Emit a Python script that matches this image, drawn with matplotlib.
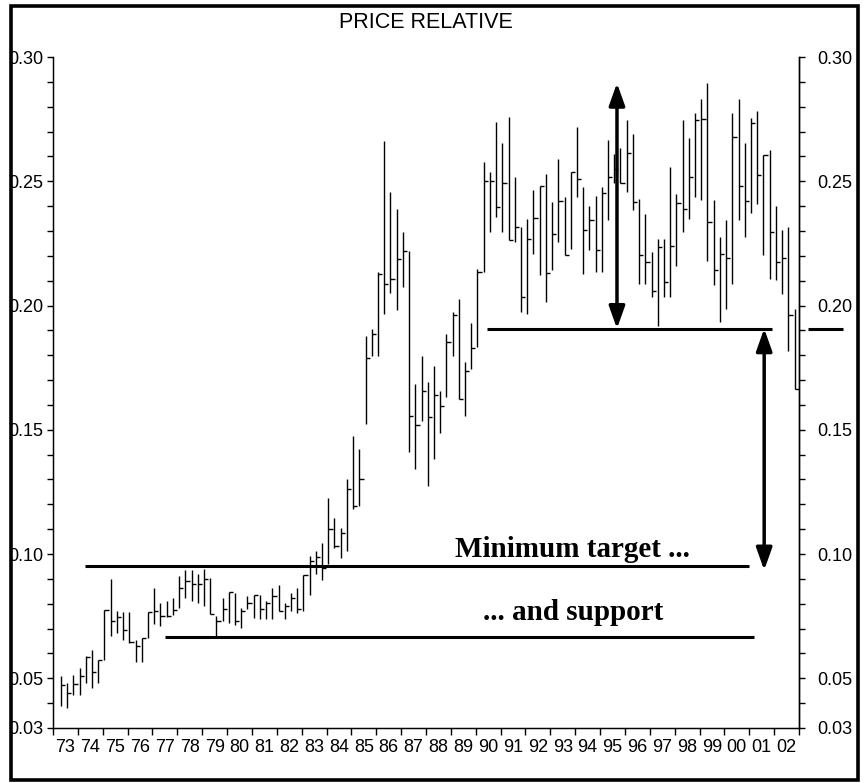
import matplotlib
matplotlib.use('Agg')
import matplotlib.pyplot as plt
import numpy as np
from matplotlib.patches import Rectangle, ArrowStyle
from matplotlib.ticker import FixedLocator, NullFormatter, FixedFormatter

# ---------------- data (quarterly high / low / close) ----------------
high = [0.0508, 0.0481, 0.0514, 0.0541, 0.0588, 0.0612, 0.0575, 0.0776, 0.0900, 0.0770,
        0.0766, 0.0766, 0.0656, 0.0662, 0.0766, 0.0864, 0.0803, 0.0810, 0.0824, 0.0911,
        0.0934, 0.0934, 0.0921, 0.0941, 0.0905, 0.0750, 0.0824, 0.0847, 0.0844, 0.0784,
        0.0831, 0.0837, 0.0837, 0.0810, 0.0864, 0.0875, 0.0804, 0.0844, 0.0864, 0.0915,
        0.0992, 0.1012, 0.1046, 0.1227, 0.1147, 0.1106, 0.1301, 0.1476, 0.1422, 0.1879,
        0.1906, 0.2134, 0.2663, 0.2457, 0.2390, 0.2296, 0.2218, 0.1684, 0.1798, 0.1691,
        0.1758, 0.1657, 0.1886, 0.1973, 0.2027, 0.1772, 0.1929, 0.2148, 0.2578, 0.2538,
        0.2739, 0.2652, 0.2760, 0.2518, 0.2316, 0.2350, 0.2466, 0.2480, 0.2531, 0.2417,
        0.2591, 0.2437, 0.2538, 0.2719, 0.2477, 0.2399, 0.2440, 0.2477, 0.2668, 0.2611,
        0.2632, 0.2746, 0.2692, 0.2430, 0.2370, 0.2215, 0.2269, 0.2269, 0.2558, 0.2450,
        0.2746, 0.2676, 0.2775, 0.2829, 0.2896, 0.2423, 0.2275, 0.2345, 0.2775, 0.2829,
        0.2652, 0.2753, 0.2784, 0.2605, 0.2625, 0.2399, 0.2305, 0.2316, 0.1987]
low = [0.0387, 0.0380, 0.0434, 0.0434, 0.0481, 0.0461, 0.0481, 0.0575, 0.0672, 0.0682,
       0.0653, 0.0642, 0.0564, 0.0564, 0.0662, 0.0719, 0.0709, 0.0746, 0.0756, 0.0783,
       0.0824, 0.0810, 0.0804, 0.0790, 0.0757, 0.0669, 0.0730, 0.0723, 0.0716, 0.0703,
       0.0777, 0.0743, 0.0737, 0.0737, 0.0737, 0.0770, 0.0737, 0.0770, 0.0763, 0.0770,
       0.0837, 0.0918, 0.0894, 0.0958, 0.1026, 0.0985, 0.1012, 0.1180, 0.1194, 0.1523,
       0.1798, 0.1798, 0.1964, 0.2050, 0.1983, 0.2074, 0.1409, 0.1341, 0.1536, 0.1274,
       0.1382, 0.1489, 0.1630, 0.1798, 0.1624, 0.1557, 0.1745, 0.1832, 0.2134, 0.2296,
       0.2356, 0.2296, 0.2262, 0.2255, 0.1973, 0.1966, 0.2208, 0.2121, 0.2013, 0.2141,
       0.2255, 0.2202, 0.2229, 0.2437, 0.2128, 0.2222, 0.2134, 0.2134, 0.2345, 0.2491,
       0.2491, 0.2457, 0.2383, 0.2087, 0.2087, 0.2034, 0.1919, 0.2034, 0.2034, 0.2161,
       0.2296, 0.2349, 0.2437, 0.2426, 0.2181, 0.2081, 0.1933, 0.1987, 0.2087, 0.2343,
       0.2275, 0.2372, 0.2407, 0.2202, 0.2108, 0.2104, 0.2047, 0.1818, 0.1664]
close = [0.0474, 0.0440, 0.0477, 0.0508, 0.0586, 0.0524, 0.0575, 0.0776, 0.0729, 0.0745,
         0.0696, 0.0645, 0.0628, 0.0662, 0.0766, 0.0772, 0.0750, 0.0750, 0.0776, 0.0864,
         0.0891, 0.0878, 0.0878, 0.0898, 0.0757, 0.0730, 0.0777, 0.0847, 0.0730, 0.0770,
         0.0804, 0.0837, 0.0777, 0.0804, 0.0831, 0.0770, 0.0790, 0.0824, 0.0777, 0.0915,
         0.0972, 0.0988, 0.0945, 0.1099, 0.1032, 0.1086, 0.1261, 0.1194, 0.1301, 0.1789,
         0.1886, 0.2125, 0.2085, 0.2108, 0.2188, 0.2218, 0.1556, 0.1520, 0.1655, 0.1550,
         0.1640, 0.1597, 0.1852, 0.1960, 0.1624, 0.1735, 0.1829, 0.2134, 0.2501, 0.2501,
         0.2397, 0.2491, 0.2262, 0.2316, 0.2034, 0.2269, 0.2353, 0.2480, 0.2130, 0.2286,
         0.2421, 0.2202, 0.2538, 0.2511, 0.2305, 0.2345, 0.2222, 0.2453, 0.2518, 0.2551,
         0.2491, 0.2614, 0.2417, 0.2202, 0.2175, 0.2058, 0.2235, 0.2094, 0.2238, 0.2414,
         0.2390, 0.2517, 0.2746, 0.2749, 0.2336, 0.2144, 0.2208, 0.2192, 0.2679, 0.2481,
         0.2419, 0.2735, 0.2524, 0.2605, 0.2296, 0.2177, 0.2192, 0.1960, 0.1664]

first_quarter = 1973.32          # date of the first quarterly bar
quarter_step = 0.25
dates = first_quarter + quarter_step * np.arange(len(close))

year_labels = ['73', '74', '75', '76', '77', '78', '79', '80', '81', '82', '83', '84', '85',
               '86', '87', '88', '89', '90', '91', '92', '93', '94', '95', '96', '97', '98',
               '99', '00', '01', '02']
y_ticks = [0.03, 0.05, 0.10, 0.15, 0.20, 0.25, 0.30]
y_labels = ['0.03', '0.05', '0.10', '0.15', '0.20', '0.25', '0.30']

# annotation levels (value, start year, end year)
target_level, target_x0, target_x1 = 0.095, 1974.3, 2001.0
support_level, support_x0, support_x1 = 0.0665, 1977.5, 2001.2
resist_level, resist_x0, resist_x1 = 0.1907, 1990.45, 2001.9
resist_ext_x0, resist_ext_x1 = 2003.35, 2004.75
arrow1_x, arrow1_top = 1995.68, 0.2895
arrow2_x, arrow2_bottom = 2001.6, 0.0935

# ---------------- figure ----------------
W, H = 864, 783
fig = plt.figure(figsize=(W / 100, H / 100), dpi=100)
ax = fig.add_axes([53 / W, 55 / H, 746 / W, 671 / H])
sans = 'Liberation Sans'
serif = 'Liberation Serif'

ax.set_xlim(1973, 1973 + len(year_labels))
ax.set_ylim(0.03, 0.30)

# OHLC style bars (high-low line with close tick to the right)
ax.vlines(dates, low, high, color='black', lw=1.0)
ax.hlines(close, dates, dates + 0.17, color='black', lw=1.0)

# spines
ax.spines['top'].set_visible(False)
for s in ['left', 'right', 'bottom']:
    ax.spines[s].set_linewidth(1.0)

minor_y = np.round(np.arange(0.04, 0.30, 0.01), 2)

# left y ticks
ax.yaxis.set_major_locator(FixedLocator(y_ticks))
ax.yaxis.set_major_formatter(FixedFormatter(y_labels))
ax.yaxis.set_minor_locator(FixedLocator(minor_y))
ax.tick_params(axis='y', which='both', left=True, right=False, labelleft=True,
               labelright=False, direction='out', length=4, width=1.0, pad=3,
               labelsize=13)
for lab in ax.get_yticklabels():
    lab.set_fontfamily(sans)

# right y ticks via twin axis
ax2 = ax.twinx()
ax2.set_ylim(ax.get_ylim())
ax2.spines['top'].set_visible(False)
ax2.spines['right'].set_linewidth(1.0)
ax2.yaxis.set_major_locator(FixedLocator(y_ticks))
ax2.yaxis.set_major_formatter(FixedFormatter(y_labels))
ax2.yaxis.set_minor_locator(FixedLocator(minor_y))
ax2.tick_params(axis='y', which='both', direction='out', length=4, width=1.0, pad=9,
                labelsize=13)
for lab in ax2.get_yticklabels():
    lab.set_fontfamily(sans)

# x ticks: major at year boundaries, labels centred in each year
years = 1973 + np.arange(len(year_labels) + 1)
ax.xaxis.set_major_locator(FixedLocator(years))
ax.xaxis.set_major_formatter(NullFormatter())
ax.xaxis.set_minor_locator(FixedLocator(years[:-1] + 0.5))
ax.xaxis.set_minor_formatter(FixedFormatter(year_labels))
ax.tick_params(axis='x', which='major', direction='out', length=5, width=1.0)
ax.tick_params(axis='x', which='minor', length=0, pad=8, labelsize=13)
for lab in ax.xaxis.get_minorticklabels():
    lab.set_fontfamily(sans)

# horizontal lines
ax.hlines(target_level, target_x0, target_x1, color='black', lw=2.2)
ax.hlines(support_level, support_x0, support_x1, color='black', lw=2.2)
ax.hlines(resist_level, resist_x0, resist_x1, color='black', lw=2.2)
ax.hlines(resist_level, resist_ext_x0, resist_ext_x1, color='black', lw=2.2, clip_on=False)

# arrows
astyle = ArrowStyle('<|-|>', head_length=0.9, head_width=0.32)
ax.annotate('', xy=(arrow1_x, arrow1_top), xytext=(arrow1_x, resist_level),
            arrowprops=dict(arrowstyle=astyle, lw=2.5, color='black', mutation_scale=15,
                            shrinkA=0, shrinkB=0))
ax.annotate('', xy=(arrow2_x, resist_level), xytext=(arrow2_x, arrow2_bottom),
            arrowprops=dict(arrowstyle=astyle, lw=2.5, color='black', mutation_scale=15,
                            shrinkA=0, shrinkB=0))

# text annotations
ax.text(1993.9, 0.1020, 'Minimum target ...', fontfamily=serif, fontweight='bold',
        fontsize=21, ha='center', va='center')
ax.text(1993.9, 0.0765, '... and support', fontfamily=serif, fontweight='bold',
        fontsize=21, ha='center', va='center')

# title
fig.text(426 / W, 1 - 22 / H, 'PRICE RELATIVE', fontfamily=sans, fontsize=15.5,
         ha='center', va='center')

# clip left labels at the frame and draw frame
fig.add_artist(Rectangle((0, 0), 11 / W, 1, transform=fig.transFigure,
                         facecolor='white', edgecolor='none', zorder=20))
fig.add_artist(Rectangle((11 / W, 3 / H), 847 / W, 774.5 / H, transform=fig.transFigure,
                         facecolor='none', edgecolor='black', lw=2.6, zorder=21))

fig.savefig('out.png', dpi=100)
